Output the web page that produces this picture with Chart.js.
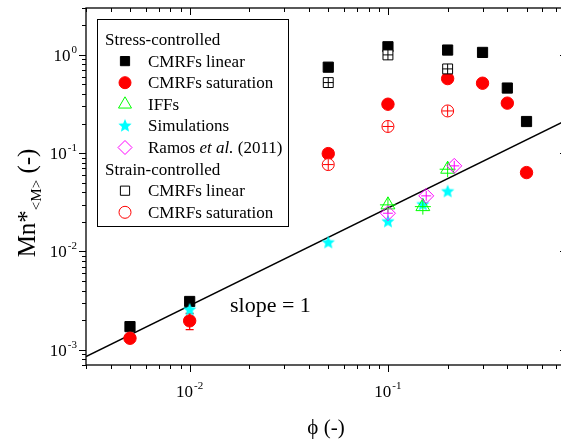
<!DOCTYPE html>
<html><head><meta charset="utf-8">
<script src="https://cdn.jsdelivr.net/npm/chart.js@4.4.0/dist/chart.umd.min.js"></script>
<style>html,body{margin:0;padding:0;background:#fff;overflow:hidden;width:561px;height:443px;}canvas{display:block;}</style>
</head><body>
<canvas id="c" width="567" height="443"></canvas>
<script>
// ---- data ----
const stressPhi      = [0.005, 0.01, 0.05, 0.1, 0.2, 0.3, 0.4, 0.5];
const stressLinear   = [1.72e-3, 3.1e-3, 0.75, 1.21, 1.12, 1.06, 0.46, 0.21];
const stressSat      = [1.31e-3, 1.97e-3, 0.099, 0.315, 0.574, 0.515, 0.323, 0.0635];
const satErrPhi      = [0.01];
const satErrLow      = [1.6e-3];
const satErrHigh     = [2.35e-3];
const strainPhi      = [0.05, 0.1, 0.2];
const strainLinear   = [0.523, 1.0, 0.72];
const strainSat      = [0.0766, 0.187, 0.269];
const iffPhi         = [0.1, 0.15, 0.2];
const iffVals        = [0.0298, 0.0286, 0.0687];
const simPhi         = [0.01, 0.05, 0.1, 0.15, 0.2];
const simVals        = [2.55e-3, 0.0123, 0.0201, 0.030, 0.0407];
const ramosPhi       = [0.1, 0.156, 0.216];
const ramosVals      = [0.0245, 0.0368, 0.0743];
const fitPhi         = [0.003, 0.8];
const fitVals        = [8.55e-4, 0.218];
const xTickExps      = [-2, -1];
const yTickExps      = [-3, -2, -1, 0];
const legendHeaders  = ['Stress-controlled', 'Strain-controlled'];
const legendLabels   = ['CMRFs linear', 'CMRFs saturation', 'IFFs', 'Simulations', 'Ramos et al. (2011)', 'CMRFs linear', 'CMRFs saturation'];
const xTitle = 'ϕ (-)';
const yTitleParts = ['Mn*', '<M>', ' (-)'];
const slopeText = 'slope = 1';

const SERIF = '"Liberation Serif", "Times New Roman", serif';
const RED = '#ff0000', GREEN = '#00ff00', CYAN = '#00ffff', MAG = '#ff00ff';

function pts(xs, ys){ return xs.map((x,i)=>({x:x, y:ys[i]})); }

function makeStar(r, color){
  const s = Math.ceil(2*r + 2);
  const c = document.createElement('canvas'); c.width = s; c.height = s;
  const g = c.getContext('2d'); g.fillStyle = color; g.beginPath();
  for (let i = 0; i < 10; i++) {
    const a = -Math.PI/2 + i*Math.PI/5, rr = (i % 2) ? r*0.45 : r;
    g.lineTo(s/2 + rr*Math.cos(a), s/2 + rr*Math.sin(a));
  }
  g.closePath(); g.fill();
  return c;
}
const starBig = makeStar(7, CYAN);
const starLeg = makeStar(7, CYAN);

function sc(label, data, style, r, fill, stroke, order, bw){
  return {label, data, showLine:false, pointStyle:style, pointRadius:r, pointHoverRadius:r,
    pointBackgroundColor:fill, pointBorderColor:stroke, pointBorderWidth:(bw===undefined?1:bw), order};
}

const datasets = [
  {label:'fit', data:pts(fitPhi, fitVals), showLine:true, borderColor:'#000', borderWidth:1.5, pointRadius:0, order:20},
  sc('stress linear', pts(stressPhi, stressLinear), 'rect', 7.2, '#000', '#000', 11),
  sc('stress sat', pts(stressPhi, stressSat), 'circle', 6.2, RED, RED, 10),
  sc('sim', pts(simPhi, simVals), starBig, 7, CYAN, CYAN, 9),
  sc('iff', pts(iffPhi, iffVals), 'triangle', 8, 'rgba(0,0,0,0)', GREEN, 8),
  sc('iff err', pts(iffPhi, iffVals), 'cross', 8, GREEN, GREEN, 7),
  sc('ramos', pts(ramosPhi, ramosVals), 'rectRot', 7.5, 'rgba(0,0,0,0)', MAG, 6),
  sc('ramos err', pts(ramosPhi, ramosVals), 'cross', 5, MAG, MAG, 5),
  sc('strain sat', pts(strainPhi, strainSat), 'circle', 6, '#fff', RED, 4),
  sc('strain sat err', pts(strainPhi, strainSat), 'cross', 5.5, RED, RED, 3),
  sc('strain linear', pts(strainPhi, strainLinear), 'rect', 7, '#fff', '#000', 2),
  sc('strain linear err', pts(strainPhi, strainLinear), 'cross', 5, '#000', '#000', 1)
];

function drawPow(ctx, exp, x, y, align){
  ctx.font = '17px ' + SERIF;
  const w1 = ctx.measureText('10').width;
  ctx.font = '11px ' + SERIF;
  const sup = String(exp);
  const w2 = ctx.measureText(sup).width;
  const tot = w1 + 1 + w2;
  const x0 = align === 'center' ? x - tot/2 : x - tot;
  ctx.textAlign = 'left'; ctx.textBaseline = 'alphabetic';
  ctx.font = '17px ' + SERIF; ctx.fillText('10', x0, y);
  ctx.font = '11px ' + SERIF; ctx.fillText(sup, x0 + w1 + 1, y - 8);
}

const errPlugin = {
  id:'errbars',
  beforeDatasetsDraw(chart){
    const {ctx, scales:{x, y}} = chart;
    ctx.save(); ctx.strokeStyle = RED; ctx.lineWidth = 1.2;
    satErrPhi.forEach((p, i) => {
      const px = x.getPixelForValue(p), lo = y.getPixelForValue(satErrLow[i]), hi = y.getPixelForValue(satErrHigh[i]);
      ctx.beginPath();
      ctx.moveTo(px, lo); ctx.lineTo(px, hi);
      ctx.moveTo(px-4, lo); ctx.lineTo(px+4, lo);
      ctx.moveTo(px-4, hi); ctx.lineTo(px+4, hi);
      ctx.stroke();
    });
    ctx.restore();
  }
};

const framePlugin = {
  id:'frame',
  afterDraw(chart){
    const {ctx, chartArea:a, scales:{x, y}} = chart;
    ctx.save();
    ctx.strokeStyle = '#000'; ctx.fillStyle = '#000'; ctx.lineWidth = 1.3;
    ctx.strokeRect(a.left, a.top, a.right - a.left, a.bottom - a.top);
    ctx.lineWidth = 1;
    ctx.beginPath();
    for (let n = -4; n <= 1; n++) {
      for (let m = 1; m <= 9; m++) {
        const v = m * Math.pow(10, n);
        const L = (m === 1) ? 7 : 4;
        if (v >= x.min * 0.999 && v <= x.max * 1.001) {
          const px = Math.round(x.getPixelForValue(v)) + 0.5;
          ctx.moveTo(px, a.bottom); ctx.lineTo(px, a.bottom + L);
          ctx.moveTo(px, a.top); ctx.lineTo(px, a.top + L);
        }
        if (v >= y.min * 0.999 && v <= y.max * 1.001) {
          const py = Math.round(y.getPixelForValue(v)) + 0.5;
          ctx.moveTo(a.left, py); ctx.lineTo(a.left - L, py);
          ctx.moveTo(a.right, py); ctx.lineTo(a.right - L, py);
        }
      }
    }
    ctx.stroke();
    // tick labels
    xTickExps.forEach(e => drawPow(ctx, e, x.getPixelForValue(Math.pow(10, e)), a.bottom + 32, 'center'));
    yTickExps.forEach(e => drawPow(ctx, e, a.left - 9, y.getPixelForValue(Math.pow(10, e)) + 6, 'right'));
    // x title
    ctx.font = '21px ' + SERIF; ctx.textAlign = 'center'; ctx.textBaseline = 'alphabetic';
    ctx.fillText(xTitle, 326, 434);
    // y title
    ctx.save();
    ctx.translate(35, 203); ctx.rotate(-Math.PI/2);
    ctx.textAlign = 'left';
    const f1 = '25px ' + SERIF, f2 = '15px ' + SERIF;
    ctx.font = f1; const w1 = ctx.measureText(yTitleParts[0]).width;
    ctx.font = f2; const w2 = ctx.measureText(yTitleParts[1]).width;
    ctx.font = f1; const w3 = ctx.measureText(yTitleParts[2]).width;
    let sx = -(w1 + w2 + w3) / 2;
    ctx.font = f1; ctx.fillText(yTitleParts[0], sx, 0); sx += w1;
    ctx.font = f2; ctx.fillText(yTitleParts[1], sx, 6); sx += w2;
    ctx.font = f1; ctx.fillText(yTitleParts[2], sx, 0);
    ctx.restore();
    // slope annotation
    ctx.font = '22px ' + SERIF; ctx.textAlign = 'left';
    ctx.fillText(slopeText, 230, 312);
    // legend
    ctx.lineWidth = 1; ctx.strokeStyle = '#000';
    ctx.strokeRect(97.5, 19.5, 191, 207);
    const base0 = 45, step = 21.6, mx = 125, tx = 148;
    ctx.font = '17px ' + SERIF;
    ctx.fillText(legendHeaders[0], 105, base0);
    ctx.fillText(legendHeaders[1], 105, base0 + 6*step);
    const marks = [
      {row:1, o:{pointStyle:'rect', radius:6.5, backgroundColor:'#000', borderColor:'#000', borderWidth:1}},
      {row:2, o:{pointStyle:'circle', radius:6, backgroundColor:RED, borderColor:RED, borderWidth:1}},
      {row:3, o:{pointStyle:'triangle', radius:7.5, backgroundColor:'rgba(0,0,0,0)', borderColor:GREEN, borderWidth:1}},
      {row:4, o:{pointStyle:starLeg, radius:7}},
      {row:5, o:{pointStyle:'rectRot', radius:7, backgroundColor:'rgba(0,0,0,0)', borderColor:MAG, borderWidth:1}},
      {row:7, o:{pointStyle:'rect', radius:6.5, backgroundColor:'#fff', borderColor:'#000', borderWidth:1}},
      {row:8, o:{pointStyle:'circle', radius:6, backgroundColor:'#fff', borderColor:RED, borderWidth:1}}
    ];
    marks.forEach((mk, i) => {
      const by = base0 + mk.row * step;
      ctx.save();
      ctx.fillStyle = mk.o.backgroundColor || '#000';
      ctx.strokeStyle = mk.o.borderColor || '#000';
      ctx.lineWidth = mk.o.borderWidth || 1;
      Chart.helpers.drawPoint(ctx, mk.o, mx, by - 5.5);
      ctx.restore();
      ctx.fillStyle = '#000';
      const lab = legendLabels[i];
      ctx.font = '17px ' + SERIF;
      if (lab.indexOf('et al.') >= 0) {
        const parts = lab.split('et al.');
        let lx = tx;
        ctx.fillText(parts[0], lx, by); lx += ctx.measureText(parts[0]).width;
        ctx.font = 'italic 17px ' + SERIF;
        ctx.fillText('et al.', lx, by); lx += ctx.measureText('et al.').width;
        ctx.font = '17px ' + SERIF;
        ctx.fillText(parts[1], lx, by);
      } else {
        ctx.fillText(lab, tx, by);
      }
    });
    ctx.restore();
  }
};

new Chart(document.getElementById('c'), {
  type:'scatter',
  data:{datasets},
  options:{
    responsive:false, animation:false, devicePixelRatio:1,
    layout:{autoPadding:false, padding:{top:8, right:0, left:0, bottom:0}},
    plugins:{legend:{display:false}, tooltip:{enabled:false}},
    scales:{
      x:{type:'logarithmic', min:0.003, max:0.8, ticks:{display:false}, grid:{display:false}, border:{display:false},
         afterFit(s){ s.height = 78; }},
      y:{type:'logarithmic', min:7e-4, max:3, ticks:{display:false}, grid:{display:false}, border:{display:false},
         afterFit(s){ s.width = 86; }}
    }
  },
  plugins:[errPlugin, framePlugin]
});
</script>
</body></html>
